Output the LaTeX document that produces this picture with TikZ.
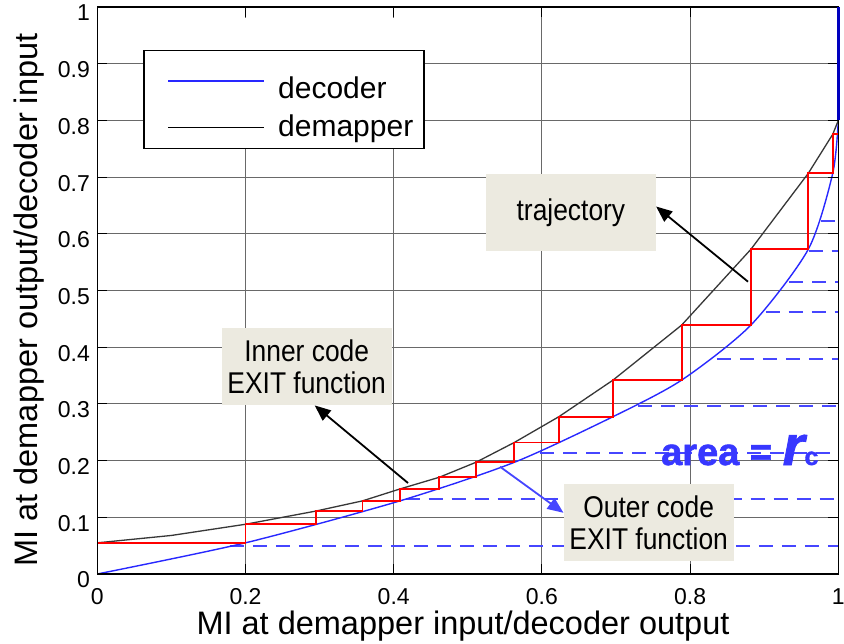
\documentclass[tikz,border=0pt]{standalone}
\usepackage{fontspec}
\setmainfont{Liberation Sans}
\newfontfamily\notefont[FakeStretch=0.88]{Liberation Sans}
\newfontfamily\heavyfont[FakeBold=1.5]{Liberation Sans Bold}
\newfontfamily\heavyitfont[FakeBold=1.5]{Liberation Sans Bold Italic}
\usetikzlibrary{arrows.meta}

\definecolor{gridgray}{RGB}{105,105,105}
\definecolor{curveblue}{RGB}{40,40,255}
\definecolor{dashblue}{RGB}{70,70,255}
\definecolor{edgeblue}{RGB}{0,0,190}
\definecolor{trajred}{RGB}{255,0,0}
\definecolor{mapgray}{RGB}{55,55,55}
\definecolor{notefill}{RGB}{236,234,224}
\definecolor{areablue}{RGB}{55,55,255}

\tikzset{
  gridline/.style={draw=gridgray, line width=1.1pt},
  tickmark/.style={draw=black, line width=1.1pt},
  areadash/.style={draw=dashblue, line width=1.8pt, dash pattern=on 14pt off 9pt},
  decodercurve/.style={draw=curveblue, line width=1.4pt, line join=round},
  demappercurve/.style={draw=mapgray, line width=1.3pt, line join=round},
  trajline/.style={draw=trajred, line width=1.8pt},
  ticklabel/.style={inner sep=0pt, font=\fontsize{23}{23}\selectfont},
  axislabel/.style={inner sep=0pt, font=\fontsize{32.5}{32.5}\selectfont},
  legendtext/.style={inner sep=0pt, anchor=base west, font=\fontsize{30}{30}\selectfont},
  notebox/.style={fill=notefill, inner sep=0pt, minimum width=170pt, minimum height=77pt,
    align=center, font=\notefont\fontsize{30}{31.7}\selectfont},
  notearrow/.style={draw=black, line width=1.8pt, -{Triangle[length=16pt,width=13pt]}},
  outerarrow/.style={draw=dashblue, line width=1.8pt, -{Triangle[length=16pt,width=13pt]}},
}

\begin{document}
\begin{tikzpicture}[x=1pt,y=-1pt]
\path[use as bounding box, fill=white] (0,0) rectangle (844,644);

% plot area in data coordinates
\begin{scope}[shift={(97.3pt,-574pt)}, x=741pt, y=567pt]
  \foreach \gx in {0.2,0.4,0.6,0.8} \draw[gridline] (\gx,0) -- (\gx,1);
  \foreach \gy in {0.1,0.2,0.3,0.4,0.5,0.6,0.7,0.8,0.9} \draw[gridline] (0,\gy) -- (1,\gy);

  % rectangles under the decoder curve (area = rate)
  \foreach \sx/\sy in {0.179/0.0494,0.416/0.1317,0.598/0.2139,0.730/0.2963,0.836/0.3787,
                       0.902/0.4616,0.934/0.5145,0.960/0.5697,0.977/0.6231}
    \draw[areadash] (\sx,\sy) -- (1,\sy);

  % decoder EXIT curve
  \draw[decodercurve] plot[smooth, tension=0.45] coordinates {(0,0) (0.2,0.055) (0.4085,0.129)
    (0.5628,0.197) (0.696,0.2775) (0.7886,0.342) (0.882,0.439) (0.9595,0.5727)
    (0.9925,0.7067) (1,0.80)};
  \draw[decodercurve] (1,0.80) -- (1,1);

  % demapper EXIT curve
  \draw[demappercurve] plot coordinates {(0,0.055) (0.1,0.068) (0.2,0.0877) (0.295,0.111)
    (0.358,0.129) (0.4085,0.15) (0.4615,0.1706) (0.511,0.197) (0.5628,0.232) (0.623,0.2775)
    (0.696,0.342) (0.7886,0.439) (0.882,0.5726) (0.9595,0.7067) (0.9925,0.7755) (1,0.80)};

  % decoding trajectory
  \draw[trajline] (0,0.055) -- (0.2,0.055) -- (0.2,0.0877) -- (0.295,0.0877) -- (0.295,0.111)
    -- (0.358,0.111) -- (0.358,0.129) -- (0.4085,0.129) -- (0.4085,0.15) -- (0.4615,0.15)
    -- (0.4615,0.1706) -- (0.511,0.1706) -- (0.511,0.197) -- (0.5628,0.197) -- (0.5628,0.232)
    -- (0.623,0.232) -- (0.623,0.2775) -- (0.696,0.2775) -- (0.696,0.342) -- (0.7886,0.342)
    -- (0.7886,0.439) -- (0.882,0.439) -- (0.882,0.5726) -- (0.9595,0.5726) -- (0.9595,0.7067)
    -- (0.9925,0.7067) -- (0.9925,0.7755) -- (1,0.7755);
\end{scope}

% legend
\fill[white] (144,18) rectangle (424,50.7);
\node[draw=black, fill=white, line width=1.4pt, minimum width=280pt, minimum height=97.6pt,
      inner sep=0pt] (legendBox) at (284,99.5) {};
\draw[decodercurve] (168.3,81) -- (264.3,81);
\draw[demappercurve, draw=black] (168.3,127.3) -- (264.3,127.3);
\node[legendtext] (legDecoder) at (278,98.3) {decoder};
\node[legendtext] (legDemapper) at (278,137) {demapper};

% annotation boxes
\node[notebox] (trajBox) at (570.9,212.5) {trajectory};
\node[notebox] (innerBox) at (306.7,366.7) {Inner code\\EXIT function};
\node[notebox] (outerBox) at (648.7,522.8) {Outer code\\EXIT function};

\coordinate (trajFoot) at (748,281.7);
\coordinate (innerFoot) at (408,483);
\coordinate (outerFoot) at (500,466.7);
\draw[notearrow] (trajFoot) -- ([yshift=6pt]trajBox.east);
\draw[notearrow] (innerFoot) -- ([xshift=8pt]innerBox.south);
\draw[outerarrow] (outerFoot) -- ([yshift=10pt]outerBox.west);

\node[anchor=base west, inner sep=0pt, text=areablue] (areaLabel) at (661,465)
  {\heavyfont\fontsize{38}{38}\selectfont area = {\heavyitfont\fontsize{56}{56}\selectfont r}{\heavyfont\fontsize{25}{25}\selectfont c}};

% frame, ticks and tick labels
\begin{scope}[shift={(97.3pt,-574pt)}, x=741pt, y=567pt]
  \draw[black, line width=1.5pt] (0,0) rectangle (1,1);
  \foreach \gx in {0.2,0.4,0.6,0.8} {
    \draw[tickmark] (\gx,0) -- ++(0pt,10pt);
    \draw[tickmark] (\gx,1) -- ++(0pt,-10pt);
  }
  \foreach \gy in {0.1,0.2,0.3,0.4,0.5,0.6,0.7,0.8,0.9} {
    \draw[tickmark] (0,\gy) -- ++(10pt,0pt);
    \draw[tickmark] (1,\gy) -- ++(-10pt,0pt);
  }
  \foreach \v [count=\i] in {0,0.2,0.4,0.6,0.8,1}
    \path (\v,0) ++(0pt,-22.7pt) node[ticklabel] (xTick\i) {\v};
  \foreach \v [count=\i] in {0,0.1,0.2,0.3,0.4,0.5,0.6,0.7,0.8,0.9,1}
    \path (0,\v) ++(-7.3pt,-6pt) node[ticklabel, anchor=east] (yTick\i) {\v};
  \draw[edgeblue, line width=3pt] (1,0.80) -- (1,1);
\end{scope}

\node[axislabel, anchor=base] (xAxisLabel) at (463,634) {MI at demapper input/decoder output};
\node[axislabel, anchor=base, rotate=90] (yAxisLabel) at (37,300) {MI at demapper output/decoder input};
\end{tikzpicture}
\end{document}
